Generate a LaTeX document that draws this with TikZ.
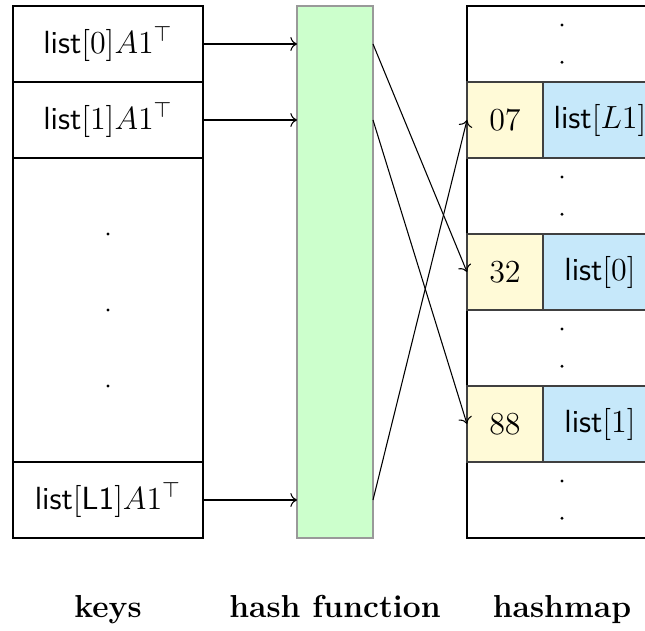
\RequirePackage{fix-cm}
\documentclass[tikz,border=0pt]{standalone}
\usepackage{amsmath, amssymb}
\usepackage{xcolor}
\usepackage{tikz}
\usetikzlibrary{arrows.meta, positioning, calc}
\definecolor{hashgreen}{RGB}{204, 255, 204}
\definecolor{slotyellow}{RGB}{255, 250, 215}
\definecolor{slotblue}{RGB}{198, 232, 250}

\begin{document}
\begin{tikzpicture}[font=\fontsize{12}{14}\selectfont,
		keybox/.style={draw, minimum width=2.5cm, minimum height=1cm, inner sep=0pt, outer sep=0pt},
		codebox/.style={draw=black!75, fill=slotyellow, minimum width=1cm, minimum height=1cm, inner sep=0pt, outer sep=0pt},
		valbox/.style={draw=black!75, fill=slotblue, minimum width=1.5cm, minimum height=1cm, inner sep=0pt, outer sep=0pt},
		coltitle/.style={font=\fontsize{11.9}{14}\selectfont\bfseries, anchor=base}]
			\useasboundingbox (-0.171,0.079) rectangle (8.316,-8.211);

			% Keys column
			\node[keybox] (k0) at (1.25,-0.5) {\textsf{list}$[0]A1^\top$};
			\node[keybox, below=0pt of k0] (k1) {\textsf{list}$[1]A1^\top$};
			\node[keybox, minimum height=4cm, below=0pt of k1] (kgap) {};
			\node[keybox, below=0pt of kgap] (kL) {\textsf{list}$[\textsf{L1}]A1^\top$};
			\foreach \y in {3,4,5}
				\fill (1.25,-\y) circle (0.022);

			% Hash function block
			\node[draw=gray!80, fill=hashgreen, minimum width=1cm, minimum height=7cm, inner sep=0pt, outer sep=0pt] (hash) at (4.237,-3.5) {};

			% Hashmap: outer frame, empty rows and filled slots
			\draw (5.974,0) rectangle (8.474,-7);
			\foreach \r in {0,2,4,6} {
				\fill (7.224,-\r-0.25) circle (0.022);
				\fill (7.224,-\r-0.74) circle (0.022);
			}
			\foreach \r/\code/\val in {1/07/{\textsf{list}$[L1]$}, 3/32/{\textsf{list}$[0]$}, 5/88/{\textsf{list}$[1]$}} {
				\node[codebox] (code\r) at (6.474,-\r-0.5) {$\code$};
				\node[valbox, right=0pt of code\r] (val\r) {\val};
			}

			% Keys into the hash function
			\foreach \k in {k0,k1,kL}
				\draw[->] (\k.east) -- (hash.west |- \k.east);

			% Hash function out to the slots
			\draw[->] (hash.east |- k0.east) -- (code3.west);
			\draw[->] (hash.east |- k1.east) -- (code5.west);
			\draw[->] (hash.east |- kL.east) -- (code1.west);

			% Column titles
			\node[coltitle] (keystitle) at (1.25,-8.04) {keys};
			\node[coltitle] (hashtitle) at (4.237,-8.04) {hash function};
			\node[coltitle] (maptitle) at (7.224,-8.04) {hashmap};

		\end{tikzpicture}
\end{document}
